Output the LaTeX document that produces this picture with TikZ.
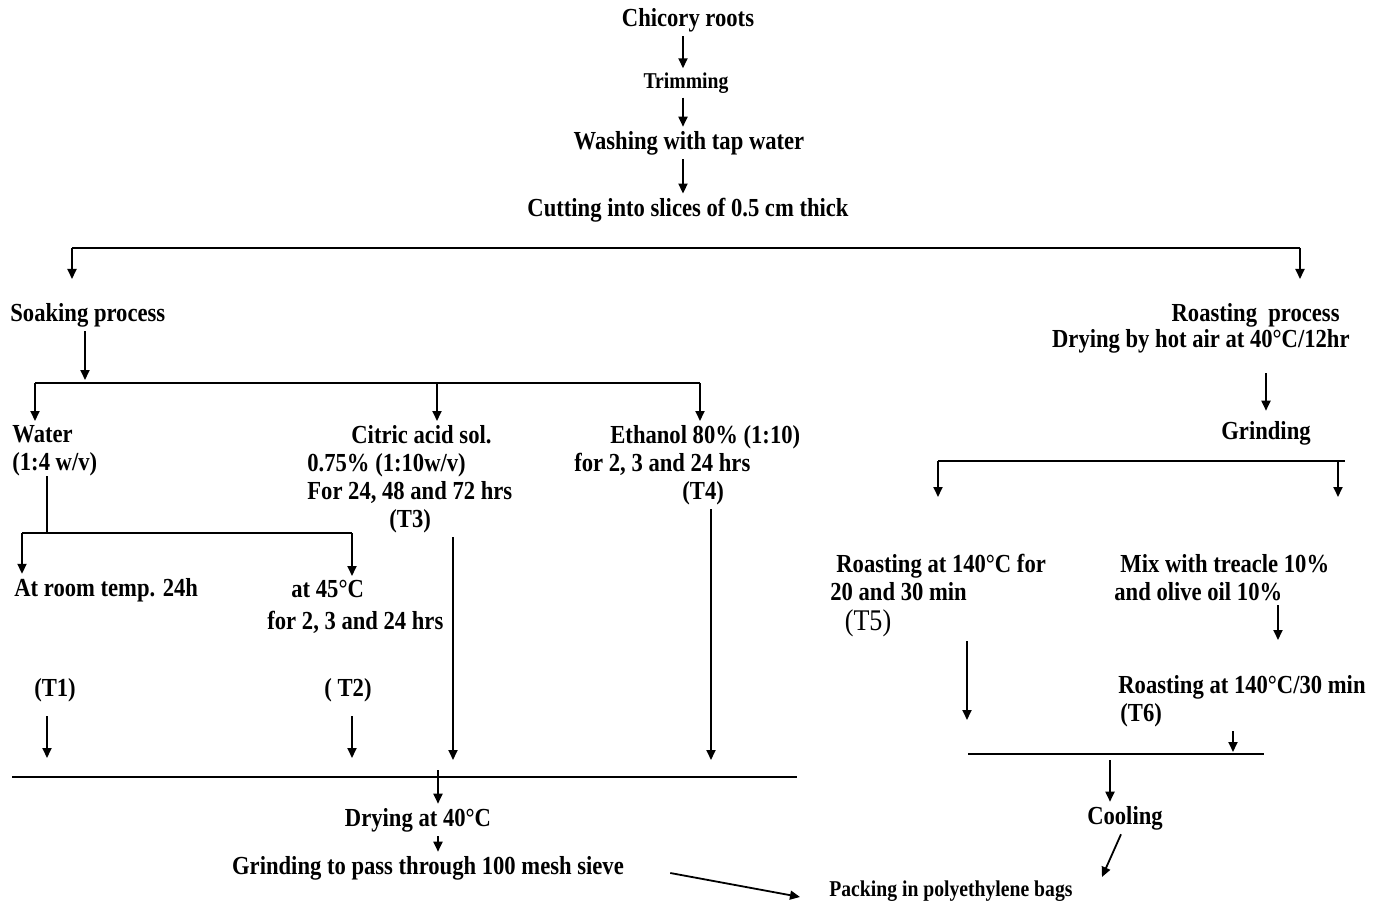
\documentclass[tikz,border=0pt]{standalone}
\usepackage{fontspec}
\setmainfont{Liberation Serif}[FakeStretch=0.87]
\usepackage{tikz}
\usetikzlibrary{arrows.meta}

\begin{document}
\begin{tikzpicture}[
    x=0.5pt, y=-0.5pt,
    every node/.style={inner sep=2pt},
    lbl/.style={font=\fontsize{13}{14}\selectfont\bfseries},
    lblsmall/.style={font=\fontsize{11.3}{13}\selectfont\bfseries},
    tag/.style={font=\fontsize{15}{17}\selectfont},
    arr/.style={-{Triangle[length=5pt, width=4.5pt]}, line width=0.9pt},
    bar/.style={line width=0.9pt}
]
    \fill[white] (0,0) rectangle (1373,904);
    \useasboundingbox (0,0) rectangle (1373,904);

    % Preparation
    \node (chicory) [lbl] at (688,20) {Chicory roots};
    \node (trim) [lblsmall] at (686,83) {Trimming};
    \node (wash) [lbl] at (689,143) {Washing with tap water};
    \node (cut) [lbl] at (688,210) {Cutting into slices of 0.5 cm thick};

    \draw [arr] (chicory.south -| 683,0) -- (trim.north -| 683,0);
    \draw [arr] (trim.south -| 683,0) -- (wash.north -| 683,0);
    \draw [arr] (wash.south -| 683,0) -- (cut.north -| 683,0);

    % Split into the two processes
    \coordinate (soakTop) at (72,248);
    \coordinate (roastTop) at (1300,248);
    \draw [bar] (soakTop) -- (roastTop);
    \draw [arr] (soakTop) -- ++(0,31);
    \draw [arr] (roastTop) -- ++(0,31);

    \node (soak) [lbl, anchor=west] at (6,315) {Soaking process};
    \node (roast) [lbl, anchor=east, align=right] at (1354,328) {Roasting\ \ process\hspace*{5pt}\\[-1pt]Drying by hot air at 40°C/12hr};

    % Soaking branch
    \coordinate (soakSplit) at (85,380);
    \coordinate (waterTop) at (35,383);
    \coordinate (citricTop) at (437,383);
    \coordinate (ethanolTop) at (700,383);
    \draw [arr] (soak.south -| soakSplit) -- (soakSplit);
    \draw [bar] (waterTop) -- (ethanolTop);

    \node (water) [lbl, anchor=north west, align=left] at (8,421) {Water\\(1:4 w/v)};
    \node (citric) [lbl, anchor=north west, align=left] at (303,421) {\hspace*{22pt}Citric acid sol.\\0.75\% (1:10w/v)\\For 24, 48 and 72 hrs\\\hspace*{41pt}(T3)};
    \node (ethanol) [lbl, anchor=north west, align=left] at (570,421) {\hspace*{18pt}Ethanol 80\% (1:10)\\for 2, 3 and 24 hrs\\\hspace*{54pt}(T4)};

    \draw [arr] (waterTop) -- (waterTop |- water.north);
    \draw [arr] (citricTop) -- (citricTop |- citric.north);
    \draw [arr] (ethanolTop) -- (ethanolTop |- ethanol.north);

    % Water: two temperatures
    \coordinate (waterSplit) at (47,533);
    \coordinate (roomTop) at (22,533);
    \coordinate (hotTop) at (352,533);
    \draw [bar] ([yshift=2pt]waterSplit |- water.south) -- (waterSplit);
    \draw [bar] (roomTop) -- (hotTop);

    \node (room) [lbl, anchor=west] at (10,590) {At room temp. 24h};
    \node (hot) [lbl, anchor=north west, align=left] at (263,576) {\hspace*{12pt}at 45°C\\[2pt]for 2, 3 and 24 hrs};
    \draw [arr] (roomTop) -- (roomTop |- room.north);
    \draw [arr] (hotTop) -- (hotTop |- hot.north);

    \node (t1) [lbl] at (55,690) {(T1)};
    \node (t2) [lbl] at (348,690) {( T2)};

    \coordinate (t1End) at (47,758);
    \coordinate (t2End) at (352,758);
    \coordinate (t3End) at (453,760);
    \coordinate (t4End) at (711,760);
    \draw [arr, shorten <=5pt] (t1.south -| t1End) -- (t1End);
    \draw [arr, shorten <=5pt] (t2.south -| t2End) -- (t2End);
    \draw [arr] (citric.south -| t3End) -- (t3End);
    \draw [arr] (ethanol.south -| t4End) -- (t4End);

    % Soaking: drying and grinding
    \coordinate (soakEndL) at (12,777);
    \coordinate (soakEndR) at (797,777);
    \coordinate (dryTop) at (438,770);
    \draw [bar] (soakEndL) -- (soakEndR);

    \node (drying) [lbl] at (418,820) {Drying at 40°C};
    \node (grind2) [lbl] at (428,868) {Grinding to pass through 100 mesh sieve};
    \node (pack) [lblsmall, anchor=west] at (825,891) {Packing in polyethylene bags};

    \draw [arr] (dryTop) -- (dryTop |- drying.north);
    \draw [arr] (drying.south -| dryTop) -- (grind2.north -| dryTop);
    \draw [arr] ([xshift=21pt, yshift=-2.5pt]grind2.east) -- ([xshift=-12.5pt, yshift=-3pt]pack.west);

    % Roasting branch
    \node (grinding) [lbl] at (1266,433) {Grinding};
    \draw [arr, shorten <=8pt, shorten >=3pt] (roast.south -| grinding) -- (grinding);

    \coordinate (r5Top) at (938,461);
    \coordinate (r6Top) at (1338,461);
    \draw [bar] (r5Top) -- ([xshift=3.5pt]r6Top);
    \draw [arr] (r5Top) -- ++(0,36);
    \draw [arr] (r6Top) -- ++(0,36);

    \node (roast5) [lbl, anchor=north west, align=left] at (826,550) {\hspace*{3pt}Roasting at 140°C for\\20 and 30 min};
    \node (t5) [tag] at (868,623) {(T5)};
    \node (mix) [lbl, anchor=north west, align=left] at (1110,550) {\hspace*{3pt}Mix with treacle 10\%\\and olive oil 10\%};
    \node (roast6) [lbl, anchor=east] at (1370,687) {Roasting at 140°C/30 min};
    \node (t6) [lbl, anchor=west] at (1116,715) {(T6)};

    \coordinate (mixEnd) at (1278,640);
    \coordinate (t5End) at (967,720);
    \coordinate (t6End) at (1233,752);
    \draw [arr] (mix.south -| mixEnd) -- (mixEnd);
    \draw [arr] (t5.south -| t5End) -- (t5End);
    \draw [arr] (t6End |- t6.south) -- (t6End);

    \coordinate (mergeL) at (968,754);
    \coordinate (mergeR) at (1264,754);
    \coordinate (coolTop) at (1110,760);
    \coordinate (packTip) at (1102,877);
    \draw [bar] (mergeL) -- (mergeR);

    \node (cooling) [lbl] at (1125,818) {Cooling};
    \draw [arr] (coolTop) -- (coolTop |- cooling.north);
    \draw [arr] ([xshift=-2pt]cooling.south) -- (packTip);
\end{tikzpicture}
\end{document}
